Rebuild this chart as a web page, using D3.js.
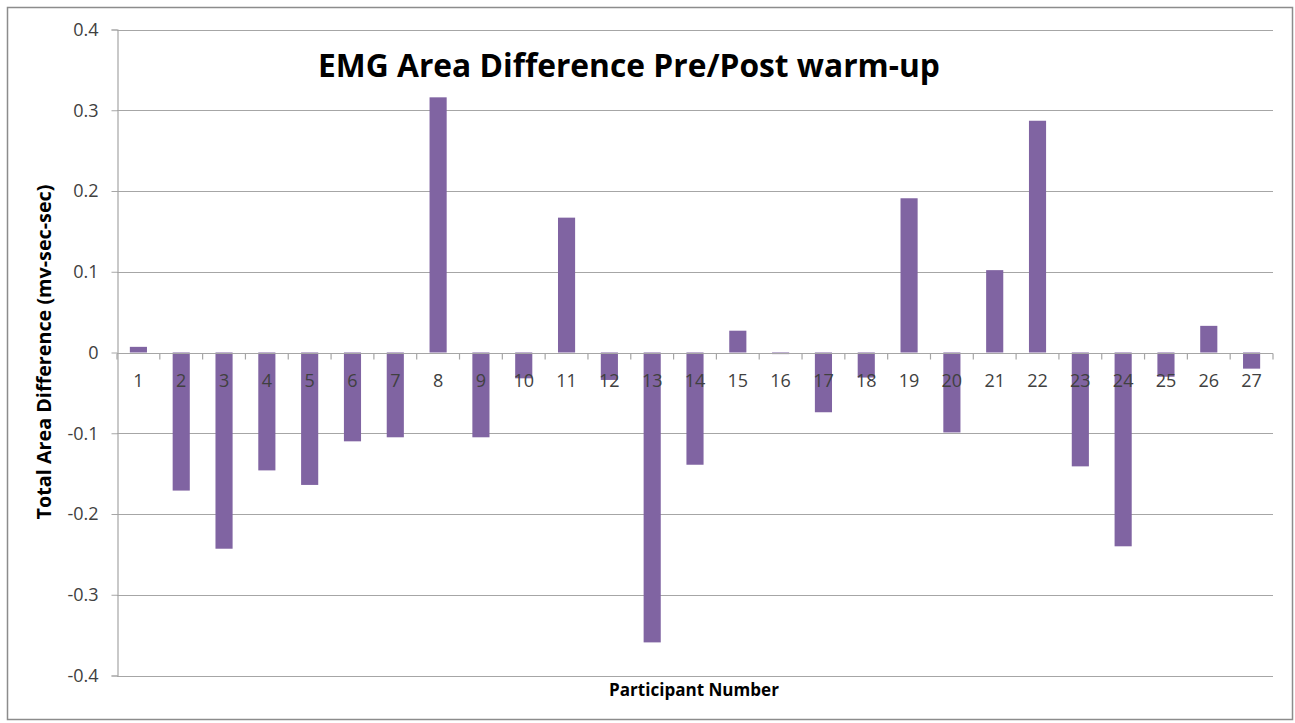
<!DOCTYPE html>
<html>
<head>
<meta charset="utf-8">
<script src="https://cdn.jsdelivr.net/npm/d3@7"></script>
<style>
  html, body { margin: 0; padding: 0; background: #fff; }
  svg { display: block; }
</style>
</head>
<body>
<script>
const participants = ["1","2","3","4","5","6","7","8","9","10","11","12","13","14","15","16","17","18","19","20","21","22","23","24","25","26","27"];
const areaDifference = [0.007, -0.171, -0.243, -0.146, -0.164, -0.110, -0.105, 0.316, -0.105, -0.032, 0.167, -0.034, -0.359, -0.139, 0.027, -0.002, -0.074, -0.031, 0.191, -0.099, 0.102, 0.287, -0.141, -0.240, -0.030, 0.033, -0.020];
const yTicks = [0.4, 0.3, 0.2, 0.1, 0, -0.1, -0.2, -0.3, -0.4];
const yTickLabels = ["0.4", "0.3", "0.2", "0.1", "0", "-0.1", "-0.2", "-0.3", "-0.4"];
const titleText = "EMG Area Difference Pre/Post warm-up";
const yTitle = "Total Area Difference (mv-sec-sec)";
const xTitle = "Participant Number";

const W = 1295, H = 723;
const plot = { left: 117, right: 1273, top: 29.5, bottom: 675.5 };
const font = "'Open Sans', Lato, sans-serif";

const svg = d3.select("body").append("svg").attr("width", W).attr("height", H);

// outer frame
svg.append("rect").attr("x", 7.5).attr("y", 7.5).attr("width", 1285).attr("height", 712)
  .attr("fill", "#fff").attr("stroke", "#8c8c8c").attr("stroke-width", 1.5);

const x = d3.scaleBand().domain(participants).range([plot.left, plot.right]).paddingInner(0.6).paddingOuter(0.3);
const xb = d3.scaleBand().domain(participants).range([plot.left, plot.right]);
const y = d3.scaleLinear().domain([-0.4, 0.4]).range([plot.bottom, plot.top]);

// gridlines
svg.append("g").selectAll("line").data(yTicks).join("line")
  .attr("x1", plot.left).attr("x2", plot.right)
  .attr("y1", d => Math.round(y(d)) + 0.5).attr("y2", d => Math.round(y(d)) + 0.5)
  .attr("stroke", "#a6a6a6").attr("stroke-width", 1.2);

// y axis
const yAxis = d3.axisLeft(y).tickValues(yTicks).tickSize(6).tickPadding(13)
  .tickFormat((d, i) => yTickLabels[i]);
const gy = svg.append("g").attr("transform", `translate(${plot.left + 0.5},0)`).call(yAxis);
gy.select(".domain").attr("stroke", "#a6a6a6").attr("stroke-width", 1.2);
gy.selectAll(".tick line").attr("stroke", "#a6a6a6");
gy.selectAll(".tick text").attr("font-family", font).attr("font-size", 18).attr("fill", "#404040");

// bars
svg.append("g").selectAll("rect").data(participants).join("rect")
  .attr("x", d => x(d))
  .attr("width", x.bandwidth())
  .attr("y", (d, i) => y(Math.max(0, areaDifference[i])))
  .attr("height", (d, i) => Math.max(1, Math.abs(y(areaDifference[i]) - y(0))))
  .attr("fill", "#8064A2");

// x axis at zero
const zeroY = Math.round(y(0)) + 0.5;
const gx = svg.append("g").attr("transform", `translate(0,${zeroY})`);
gx.append("line").attr("x1", plot.left).attr("x2", plot.right).attr("stroke", "#a6a6a6").attr("stroke-width", 1.2);
const boundaries = participants.map(p => xb(p)).concat([plot.right]);
gx.selectAll("line.tk").data(boundaries).join("line").attr("class", "tk")
  .attr("x1", d => d).attr("x2", d => d).attr("y1", 0).attr("y2", 6)
  .attr("stroke", "#a6a6a6").attr("stroke-width", 1.2);
gx.selectAll("text").data(participants).join("text")
  .attr("x", d => xb(d) + xb.bandwidth() / 2)
  .attr("y", 33)
  .attr("text-anchor", "middle")
  .attr("font-family", font).attr("font-size", 18).attr("fill", "#404040")
  .text(d => d);

// title
const t = svg.append("text")
  .attr("x", 629).attr("y", 77)
  .attr("text-anchor", "middle")
  .attr("font-family", font).attr("font-weight", "bold").attr("font-size", 30).attr("fill", "#000")
  .text(titleText);
const tw = t.node().getComputedTextLength();
t.attr("font-size", 30 * 622 / tw);

// axis titles
const yt = svg.append("text")
  .attr("transform", `translate(51,352) rotate(-90)`)
  .attr("text-anchor", "middle")
  .attr("font-family", font).attr("font-weight", "bold").attr("font-size", 14).attr("fill", "#000")
  .text(yTitle);
const ytw = yt.node().getComputedTextLength();
yt.attr("font-size", 14 * 335 / ytw);

const xt = svg.append("text")
  .attr("x", 694).attr("y", 696)
  .attr("text-anchor", "middle")
  .attr("font-family", font).attr("font-weight", "bold").attr("font-size", 14).attr("fill", "#000")
  .text(xTitle);
const xtw = xt.node().getComputedTextLength();
xt.attr("font-size", 14 * 170 / xtw);
</script>
</body>
</html>
